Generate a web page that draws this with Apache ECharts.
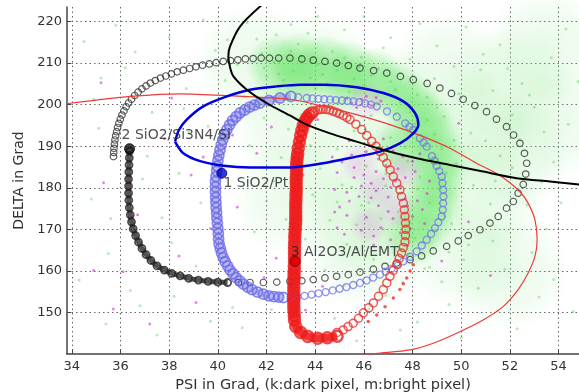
<!DOCTYPE html>
<html>
<head>
<meta charset="utf-8">
<script src="https://cdn.jsdelivr.net/npm/echarts@6.0.0/dist/echarts.min.js"></script>
<style>
  html, body { margin: 0; padding: 0; background: #fff; }
  #chart { width: 579px; height: 392px; }
</style>
</head>
<body>
<div id="chart"></div>
<script>
// tick labels
let xTicks = [34, 36, 38, 40, 42, 44, 46, 48, 50, 52, 54];
let yTicks = [150, 160, 170, 180, 190, 200, 210, 220];

// pixel clouds (psi, delta)
let greenHalo = [[44,208],[47,200],[48.5,188],[48,175],[45.5,185],[46,172],[50.5,195],[43,196],[51,178],[49.5,208],[46,165],[43,178],[52,205],[41.5,210],[50,165],[52,188],[53.5,214],[53.8,196],[52,160]];
let greenCore = [[42.4,209.5],[43.4,210.2],[44.4,209.6],[45.4,208.4],[46.4,206.6],[43.4,206.8],[45.2,205],[47.2,203.6],[47.9,200.3],[48.4,196.5],[48.8,192],[49.0,187],[49.0,182],[48.8,177],[48.5,172],[48.0,168],[47.6,190]];
let magentaHaze = [[46.5,180],[47.3,175],[45.8,186],[47.6,184],[46.2,171],[46.1,201]];
let greenDots = [
  [34.5,215.2],[35.2,206.4],[35.8,219.1],[36.6,212.7],[37.3,198.2],[38.0,216.3],[38.7,203.9],[39.4,220.4],[39.9,213.1],[34.8,177.3],
  [35.5,164.2],[36.8,151.6],[37.7,172.8],[38.4,183.5],[39.1,161.2],[39.7,147.9],[38.8,193.4],[37.1,187.6],[35.1,194.3],[34.3,157.8],
  [41.0,146.3],[42.2,150.7],[41.5,169.4],[42.0,176.9],[41.3,190.2],[42.6,187.3],[44.8,148.6],[45.7,143.2],[48.2,147.7],[49.5,151.9],
  [50.7,155.8],[51.8,160.4],[50.1,162.7],[51.3,167.2],[53.5,170.1],[54.1,176.4],[53.8,186.2],[54.4,195.3],[53.0,199.4],[52.5,205.1],
  [53.7,211.3],[54.3,218.2],[51.6,214.4],[50.2,218.7],[49.0,214.2],[48.3,219.5],[47.1,216.1],[46.0,221.3],[45.2,218.0],[44.1,221.2],
  [43.0,219.3],[50.8,208.4],[52.1,197.6],[49.7,209.2],[51.0,191.3],[52.9,164.4],[53.8,157.9],[54.6,150.2],[52.3,146.1],[50.0,143.9],
  [47.5,145.8],[46.2,150.9],[36.2,208.9],[37.9,210.5],[38.6,199.1],[39.6,194.8],[40.4,215.6],[41.2,219.7],[42.4,216.8],[36.4,155.3],
  [38.2,153.9],[40.6,151.2],[35.4,147.2],[37.5,144.6],[39.3,176.4],[38.1,166.8],[36.9,182.1],[35.6,172.6],[34.9,201.3],[54.8,205.6],
  [53.3,181.4],[52.7,175.9],[51.5,150.4],[53.2,153.7],
  [41.8,212.3],[42.5,207.4],[43.3,214.6],[44.0,203.9],[44.7,212.8],[45.3,201.5],[45.9,211.4],[46.6,208.7],[47.3,203.6],[47.9,210.9],
  [48.6,201.8],[49.3,197.2],[49.9,202.6],[50.6,199.1],[51.3,203.4],[51.9,208.7],[50.4,193.2],[51.6,187.7],[52.4,191.6],[49.8,185.9],
  [50.5,180.6],[51.2,176.1],[49.6,171.4],[50.3,166.3],[48.7,160.9],[47.6,157.2],[46.4,162.8],[45.3,166.4],[44.6,172.2],[43.9,178.3],
  [44.2,184.6],[44.9,189.3],[45.6,193.7],[46.3,197.4],[47.1,192.1],[47.8,186.4],[48.2,179.7],[47.4,174.2],[46.8,170.1],[45.9,175.8],
  [45.1,180.7],[46.1,185.2],[46.9,180.5],[45.7,171.1],[44.4,160.2],[43.6,167.7],[42.8,172.4],[42.3,181.6],[42.9,194.1],[43.8,190.2],
  [41.9,196.8],[41.1,201.9],[40.3,205.8],[40.8,209.6],[41.6,215.8],[43.7,217.2],[46.8,213.7],[48.9,206.3],[50.9,212.1],[52.8,202.3],
  [53.4,193.4],[52.1,184.9],[51.4,181.7],[49.1,176.3],[48.1,167.9],[45.2,156.6],[46.9,154.1],[49.2,157.4],[43.2,159.6],[44.9,176.6],
  [41.9,208.8],[42.3,210.2],[42.7,205.9],[43.1,208.1],[43.4,211.6],[43.8,206.5],[44.1,209.7],[44.5,205.2],[44.9,208.3],[45.2,211.2],
  [45.6,206.2],[46.0,204.4],[46.3,207.1],[46.8,202.9],[47.1,205.6],[47.5,200.7],[47.9,198.1],[48.2,202.4],[48.6,196.3],[48.9,192.9],
  [49.2,189.4],[48.8,186.1],[49.4,183.6],[49.1,179.8],[48.7,176.4],[49.3,173.2],[48.9,169.8],[48.4,166.9],[47.9,171.8],[48.3,182.6],
  [47.7,189.8],[48.1,195.4],[47.3,197.7],[46.5,200.2],[45.4,203.1],[44.3,207.3],[43.0,212.9],[42.0,206.7],[44.7,201.2],[45.8,209.2],
  [46.9,183.3],[47.4,178.7],[46.2,176.4],[45.5,180.2],[46.7,172.6],[47.8,163.9],[48.5,160.6],[49.5,164.5],[49.7,191.4],[49.0,199.3]
];
let magentaDots = [
  [45.1,186.2],[45.6,182.5],[46.1,188.7],[46.5,179.3],[46.9,185.4],[47.3,181.6],[47.7,177.4],[48.1,183.9],[48.4,174.8],[47.9,170.2],
  [47.2,172.6],[46.6,175.7],[45.8,177.9],[45.3,173.4],[44.8,179.6],[45.9,169.8],[46.4,166.2],[47.1,167.5],[47.6,187.6],[46.2,190.7],
  [45.4,191.3],[44.9,170.4],[48.6,178.6],[48.3,188.2],[47.0,177.8],[46.0,183.1],[45.0,175.4],[46.8,191.8],[47.8,166.1],[45.7,165.3],
  [46.3,181.1],[47.4,184.6],[48.0,173.1],[45.2,168.8],[46.7,170.4],[44.9,183.7],[45.5,187.9],[46.6,186.9],[47.5,179.9],[48.2,176.9],
  [47.0,174.3],[46.1,172.9],[45.4,176.8],[45.9,180.4],[46.8,182.2],[47.7,182.5],[48.5,171.4],[47.5,169.2],[46.4,168.4],[45.6,184.9],
  [44.7,187.4],[47.2,188.9],[48.0,186.4],[46.3,177.6],[47.1,180.1],[46.5,183.9],[45.3,178.9],[44.8,174.2],[48.7,181.6],[47.8,175.6],
  [45.5,200.4],[45.9,201.3],[46.3,199.8],[46.7,200.9],[46.1,202.0],[45.7,199.3],[46.5,201.7],[45.3,201.6],
  [35.3,181.2],[36.7,173.5],[37.8,191.8],[38.4,163.6],[39.1,152.4],[35.7,150.8],[34.9,160.1],[40.8,175.4],[41.6,188.3],[42.4,163.1],
  [37.2,147.2],[38.9,183.1],[40.6,192.7],[43.6,150.6],[44.3,156.3],[36.1,159.8],[39.7,170.2],[41.9,158.4],[42.2,194.6],[39.4,187.4],
  [35.2,205.3],[38.1,201.6],[49.2,162.4],[50.3,171.8],[51.2,158.9],[43.5,183.1],[44.1,196.4],[49.9,195.5]
];

// 2 SiO2/Si3N4/Si  (black circles)
let kChain = [
  [35.71,187.5],[35.72,188.5],[35.73,189.5],[35.75,190.5],[35.77,191.5],[35.8,192.5],[35.84,193.5],[35.88,194.5],[35.93,195.5],[35.99,196.5],
  [36.06,197.5],[36.14,198.5],[36.23,199.5],[36.33,200.4],[36.45,201.3],[36.58,202.2],[36.72,203.0],[36.88,203.8],[37.05,204.5],[37.23,205.2],
  [37.43,205.8],[37.64,206.4],[37.86,206.9],[38.09,207.4],[38.33,207.9],[38.58,208.3],[38.84,208.7],[39.1,209.1],[39.37,209.5],[39.65,209.8],
  [39.93,210.1],[40.22,210.4],[40.52,210.6],[40.82,210.8],[41.13,211.0],[41.45,211.1],[41.78,211.2],[42.12,211.2],[42.5,211.2],[42.96,211.2],
  [43.45,211.0],[43.92,210.7],[44.4,210.4],[44.88,210.0],[45.36,209.4],[45.84,208.8],[46.4,208.2],[46.94,207.6],[47.5,206.8],[48.03,206.0],
  [48.6,205.1],[49.12,204.0],[49.6,202.7],[50.08,201.3],[50.56,199.8],[51.04,198.3],[51.45,196.5],[51.86,194.7],[52.15,192.7],[52.41,190.7],
  [52.6,188.3],[52.69,185.9],[52.65,183.3],[52.55,180.8],[52.34,178.7],[52.14,176.7],[51.86,175.1],[51.52,173.1],[51.18,171.5],[50.77,169.9],
  [50.29,168.5],[49.88,167.2],[49.4,165.9],[48.85,164.8],[48.37,163.6],[47.9,162.7],[47.35,161.9],[46.87,161.1],[46.39,160.4],[45.84,159.7],
  [45.36,159.1],[44.88,158.7],[44.4,158.3],[43.92,157.9],[43.45,157.6],[42.96,157.5],[42.42,157.3],[41.87,157.2],[41.32,157.2],[40.85,157.2]
];
let kDense = [
  [40.4,157.2],[40.0,157.3],[39.6,157.5],[39.2,157.8],[38.8,158.2],[38.45,158.8],[38.1,159.4],[37.8,160.2],[37.5,161.2],[37.25,162.5],
  [37.05,163.9],[36.88,165.4],[36.74,166.9],[36.62,168.5],[36.52,170.1],[36.45,171.8],[36.4,173.5],[36.36,175.2],[36.34,177],[36.33,178.7],
  [36.33,180.4],[36.33,182.1],[36.34,183.8],[36.35,185.5],[36.36,187.2],[36.37,188.8]
];
let kEnd = [[36.37,189.4]];

// 1 SiO2/Pt  (blue circles)
let bDense = [
  [43.0,202.0],[42.55,201.6],[42.1,201.0],[41.73,200.4],[41.5,199.9],[41.3,199.4],[41.1,198.7],[40.91,198.0],[40.75,197.1],[40.6,196.2],
  [40.48,195.1],[40.37,194.0],[40.28,192.8],[40.2,191.6],[40.14,190.4],[40.09,189.1],[40.04,187.8],[40.0,186.5],[39.97,185.2],[39.95,184.0],
  [39.92,182.7],[39.9,181.5],[39.9,180.2],[39.9,179.0],[39.91,177.7],[39.92,176.5],[39.93,175.2],[39.95,174.0],[39.96,172.7],[39.98,171.5],
  [40.0,170.2],[40.02,169.0],[40.03,167.7],[40.05,166.5],[40.1,165.4],[40.15,164.3],[40.22,163.2],[40.3,162.2],[40.4,161.2],[40.5,160.2],
  [40.62,159.3],[40.75,158.4],[40.9,157.6],[41.05,156.8],[41.22,156.1],[41.4,155.5],[41.63,154.9],[41.87,154.4],[42.1,154.0],[42.3,153.8],
  [42.5,153.7],[42.69,153.6]
];
let bChain = [
  [42.98,153.6],[43.27,153.8],[43.56,154.0],[43.85,154.3],[44.14,154.6],[44.43,154.9],[44.72,155.3],[45.0,155.7],[45.28,156.1],[45.56,156.6],
  [45.84,157.1],[46.11,157.7],[46.38,158.4],[46.66,159.1],[46.9,159.8],[47.14,160.5],[47.4,161.4],[47.62,162.3],[47.9,163.4],[48.17,164.7],
  [48.38,166.1],[48.58,167.5],[48.76,168.9],[48.92,170.3],[49.06,171.7],[49.2,173.1],[49.24,174.7],[49.26,176.3],[49.27,177.9],[49.26,179.5],
  [49.23,181.1],[49.2,182.7],[49.1,184.0],[48.99,185.3],[48.9,186.5],[48.8,187.6],[48.58,189.9],[48.45,190.9],[48.3,191.9],[48.03,193.9],
  [47.87,194.7],[47.7,195.5],[47.35,197.1],[46.95,198.4],[46.53,199.6],[46.29,200.0],[46.05,200.3],[45.81,200.6],[45.57,200.8],[45.33,200.9],
  [45.1,201.0],[44.85,201.1],[44.61,201.2],[44.37,201.3],[44.13,201.4],[43.89,201.5],[43.65,201.6],[43.3,201.8]
];
let bEnd = [[40.16,183.5]];

// 3 Al2O3/Al/EMT  (red circles)
let rDense = [
  [44.9,144.3],[44.5,143.9],[44.1,143.8],[43.7,144.2],[43.4,145.2],[43.2,146.6],[43.15,148.2],[43.14,149.2],[43.13,150.2],[43.12,151.2],
  [43.12,152.2],[43.12,153.2],[43.12,154.2],[43.12,155.2],[43.12,156.2],[43.12,157.2],[43.13,158.2],[43.13,159.2],[43.14,160.2],[43.14,161.2],
  [43.15,162.2],[43.15,163.2],[43.15,164.2],[43.15,165.2],[43.15,166.2],[43.16,167.2],[43.16,168.2],[43.17,169.2],[43.18,170.2],[43.19,171.2],
  [43.2,172.2],[43.2,173.2],[43.2,174.2],[43.2,175.2],[43.2,176.2],[43.21,177.2],[43.21,178.2],[43.22,179.2],[43.22,180.2],[43.22,181.2],
  [43.22,182.2],[43.23,183.2],[43.23,184.2],[43.24,185.2],[43.24,186.2],[43.26,187.2],[43.28,188.2],[43.3,189.5],[43.35,191.0],[43.4,192.5],
  [43.45,193.8],[43.51,195.0],[43.58,196.0],[43.65,196.8],[43.75,197.5],[43.86,198.0]
];
let rChain = [
  [43.98,198.4],[44.1,198.7],[44.22,198.85],[44.33,198.9],[44.46,198.85],[44.6,198.7],[44.74,198.4],[44.88,198.1],[45.0,197.8],[45.15,197.4],
  [45.3,196.9],[45.43,196.4],[45.67,195.3],[45.91,194.0],[46.12,192.6],[46.32,191.2],[46.5,190.0],[46.66,188.7],[46.8,187.3],[46.94,185.9],
  [47.08,184.3],[47.21,182.7],[47.35,181.1],[47.48,179.5],[47.55,177.9],[47.62,176.3],[47.66,174.7],[47.69,173.1],[47.71,171.5],[47.73,170.0],
  [47.71,168.5],[47.69,167.0],[47.62,165.6],[47.55,164.3],[47.45,163.0],[47.35,161.6],[47.21,160.1],[47.07,158.7],[46.94,157.1],[46.8,155.5],
  [46.6,153.9],[46.39,152.3],[46.2,151.1],[45.98,149.9],[45.78,148.6],[45.56,147.4],[45.35,146.6],[45.15,145.8],[44.9,145.2]
];
let rDots = [[48.03,161.5],[47.9,160.0],[47.76,158.3],[47.62,156.9],[47.48,155.5],[47.21,153.5],[46.87,151.4],[46.53,149.4],[46.18,147.8]];
let rEnd = [[43.17,162.3]];

// fitted curves
let redCurve = [
  [33.6,200.1],[35.0,201.1],[36.4,202.0],[38.45,202.6],[40.6,202.1],[42.96,201.3],[44.33,199.6],[45.7,197.6],[47.07,195.2],[48.44,192.3],
  [49.54,189.5],[50.63,185.9],[51.4,183.6],[52.0,181.2],[52.45,178.8],[52.75,176.3],[53.03,172.3],[53.12,167.5],[53.03,163.5],[52.75,159.5],
  [52.34,155.5],[51.72,151.4],[50.9,148.2],[49.81,145.0],[48.85,142.6],[47.9,141.0],[46.46,140.1],[45.0,139.0]
];
let blueEllipse = [
  [38.24,191.1],[38.4,193.9],[38.72,196.4],[39.4,199.6],[40.37,202.0],[41.32,203.6],[42.42,204.4],[43.38,204.8],[44.33,204.8],[45.7,204.2],
  [46.8,202.8],[47.62,200.8],[48.1,198.0],[48.24,195.2],[48.03,193.1],[47.48,190.7],[46.66,188.7],[45.7,187.5],[44.33,185.9],[42.96,184.9],
  [41.32,184.9],[40.23,185.3],[39.27,186.4],[38.58,188.3],[38.24,191.1]
];
let blackCurve = [
  [42.3,226],[41.73,223.6],[40.91,218.8],[40.5,214.0],[40.43,211.6],[40.5,209.0],[40.64,206.8],[41.19,203.6],[42.0,200.4],[42.96,197.4],
  [43.65,195.2],[44.61,193.1],[45.7,191.1],[46.8,189.1],[48.17,187.1],[49.54,185.5],[50.9,183.9],[52.28,182.3],[53.65,181.5],[55.0,180.7]
];

let sampleLabels = [
  { name: '2 SiO2/Si3N4/Si', value: [36.02, 192.5] },
  { name: '1 SiO2/Pt', value: [40.21, 181.0] },
  { name: '3 Al2O3/Al/EMT', value: [42.97, 164.4] }
];

let chart = echarts.init(document.getElementById('chart'));

let font = 'DejaVu Sans, sans-serif';

function ring(color, size, width) {
  return {
    symbol: 'circle',
    symbolSize: size,
    itemStyle: { color: 'rgba(0,0,0,0)', borderColor: color, borderWidth: width }
  };
}

// soft round spot, fading to transparent at the rim
function glow(rgb, alpha) {
  return {
    type: 'radial', x: 0.5, y: 0.5, r: 0.5,
    colorStops: [
      { offset: 0, color: 'rgba(' + rgb + ',' + alpha + ')' },
      { offset: 0.6, color: 'rgba(' + rgb + ',' + (alpha * 0.6) + ')' },
      { offset: 1, color: 'rgba(' + rgb + ',0)' }
    ]
  };
}

function scatter(data, extra) {
  return Object.assign({ type: 'scatter', data: data, silent: true, animation: false }, extra);
}

function curve(data, color, width, smooth) {
  return {
    type: 'line', data: data, symbol: 'none', silent: true, animation: false,
    smooth: smooth || 0, lineStyle: { color: color, width: width }
  };
}

let series = [
  // pixel clouds
  scatter(greenHalo, { symbolSize: 120, itemStyle: { color: glow('130,228,130', 0.22) } }),
  scatter(greenCore, { symbolSize: 60, itemStyle: { color: glow('110,230,110', 0.65) } }),
  scatter(magentaHaze, { symbolSize: 40, itemStyle: { color: glow('225,110,225', 0.3) } }),
  scatter(greenDots, { symbolSize: 3, itemStyle: { color: 'rgba(90,210,90,0.55)' } }),
  scatter(magentaDots, { symbolSize: 3, itemStyle: { color: 'rgba(210,40,210,0.7)' } }),
  // simulated thickness sweeps: dense runs get a band through the same points
  curve(kDense, 'rgba(40,40,40,0.8)', 5, 0.3),
  curve(bDense, 'rgba(120,120,235,0.55)', 7, 0.3),
  curve(rDense, 'rgba(238,30,30,0.9)', 8, 0.3),
  scatter(kChain, ring('#333', 6.5, 1.2)),
  scatter(kDense, ring('#222', 7, 1.8)),
  scatter(bDense, ring('#6c6ce8', 10, 1.8)),
  scatter(bChain, ring('#7878ee', 7, 1.3)),
  scatter(rDense, ring('#ee1c1c', 11, 2.5)),
  scatter(rChain, ring('#ee3030', 8, 1.5)),
  scatter(rDots, { symbolSize: 3.5, itemStyle: { color: '#ee3030' } }),
  curve(redCurve, '#ee3b3b', 1.2, 0.3),
  curve(blueEllipse, '#0000dd', 2.5, 0.3),
  curve(blackCurve, '#000', 2, 0.3),
  // sample labels
  scatter(sampleLabels, {
    symbolSize: 1, itemStyle: { color: 'rgba(0,0,0,0)' },
    label: { show: true, position: 'right', distance: 0, formatter: '{b}', color: '#222', fontSize: 14, fontFamily: font }
  }),
  scatter(kEnd, { symbolSize: 10, itemStyle: { color: '#111', borderColor: '#000', borderWidth: 1 } }),
  scatter(bEnd, { symbolSize: 10, itemStyle: { color: '#0000cc', borderColor: '#000088', borderWidth: 1 } }),
  scatter(rEnd, { symbolSize: 10, itemStyle: { color: '#dd0000', borderColor: '#660000', borderWidth: 1 } })
];
// stack strictly in list order (line and scatter have different default z)
series.forEach(function (s, i) { s.z = i + 1; });

let option = {
  animation: false,
  textStyle: { fontFamily: font },
  grid: { left: 67, right: 0, top: 7, bottom: 38, outerBoundsMode: 'none' },
  xAxis: {
    type: 'value', min: 33.8, max: 54.84,
    name: 'PSI in Grad, (k:dark pixel, m:bright pixel)',
    nameLocation: 'middle', nameGap: 20,
    nameTextStyle: { color: '#333', fontSize: 14.5, fontFamily: font },
    axisLine: { show: true, onZero: false, lineStyle: { color: '#444', width: 1.5 } },
    axisTick: { show: true, inside: true, length: 4, customValues: xTicks, lineStyle: { color: '#444' } },
    axisLabel: { customValues: xTicks, color: '#333', fontSize: 13, margin: 6, fontFamily: font },
    splitLine: { show: true, lineStyle: { type: [1.5, 3], color: '#666', width: 1 } }
  },
  yAxis: {
    type: 'value', min: 140, max: 223.5,
    name: 'DELTA in Grad',
    nameLocation: 'middle', nameGap: 41,
    nameTextStyle: { color: '#333', fontSize: 14, fontFamily: font },
    axisLine: { show: true, onZero: false, lineStyle: { color: '#444', width: 1.5 } },
    axisTick: { show: true, inside: true, length: 4, customValues: yTicks, lineStyle: { color: '#444' } },
    axisLabel: { customValues: yTicks, color: '#333', fontSize: 13, margin: 5, fontFamily: font },
    splitLine: { show: true, lineStyle: { type: [1.5, 3], color: '#666', width: 1 } }
  },
  series: series
};

chart.setOption(option);
</script>
</body>
</html>
